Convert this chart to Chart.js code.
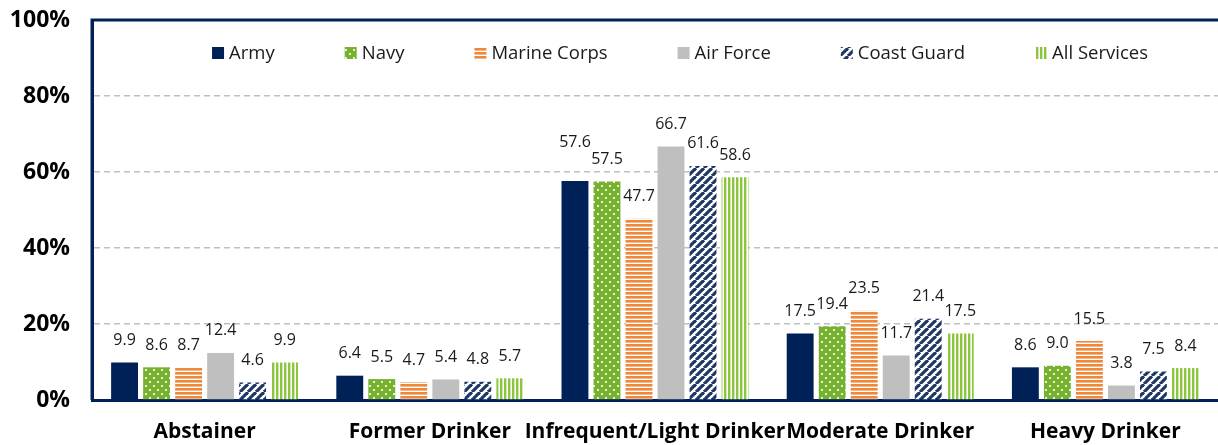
<!DOCTYPE html>
<html>
<head>
<meta charset="utf-8">
<script src="https://cdn.jsdelivr.net/npm/chart.js@4.4.0/dist/chart.umd.min.js"></script>
<style>
html,body{margin:0;padding:0;background:#fff;}
#wrap{width:1218px;height:445px;position:relative;}
</style>
</head>
<body>
<div id="wrap"><canvas id="c" width="1218" height="445"></canvas></div>
<script>
const categories = ["Abstainer", "Former Drinker", "Infrequent/Light Drinker", "Moderate Drinker", "Heavy Drinker"];
const seriesNames = ["Army", "Navy", "Marine Corps", "Air Force", "Coast Guard", "All Services"];
const army        = [9.9, 6.4, 57.6, 17.5, 8.6];
const navy        = [8.6, 5.5, 57.5, 19.4, 9.0];
const marineCorps = [8.7, 4.7, 47.7, 23.5, 15.5];
const airForce    = [12.4, 5.4, 66.7, 11.7, 3.8];
const coastGuard  = [4.6, 4.8, 61.6, 21.4, 7.5];
const allServices = [9.9, 5.7, 58.6, 17.5, 8.4];
const yTicks = [0, 20, 40, 60, 80, 100];

const NAVY = '#002157';
const FONT = '"Open Sans", "Noto Sans", sans-serif';

function tile(w, h, draw) {
  const cv = document.createElement('canvas');
  cv.width = w; cv.height = h;
  const g = cv.getContext('2d');
  draw(g, w, h);
  return document.getElementById('c').getContext('2d').createPattern(cv, 'repeat');
}
const pNavy = tile(8, 8, (g) => {
  g.fillStyle = '#77b22f'; g.fillRect(0, 0, 8, 8);
  g.fillStyle = '#ffffff';
  g.beginPath(); g.arc(2, 2, 1.1, 0, Math.PI * 2); g.fill();
  g.beginPath(); g.arc(6, 6, 1.1, 0, Math.PI * 2); g.fill();
});
const pMarine = tile(4, 4, (g) => {
  g.fillStyle = '#ffffff'; g.fillRect(0, 0, 4, 4);
  g.fillStyle = '#f0883a'; g.fillRect(0, 0, 4, 2.6);
});
const pCoast = tile(8, 8, (g) => {
  g.fillStyle = '#ffffff'; g.fillRect(0, 0, 8, 8);
  g.strokeStyle = '#1f3864'; g.lineWidth = 3.2;
  for (let k = -8; k <= 16; k += 8) {
    g.beginPath(); g.moveTo(k, 8); g.lineTo(k + 8, 0); g.stroke();
  }
});
const pAll = tile(4, 4, (g) => {
  g.fillStyle = '#ffffff'; g.fillRect(0, 0, 4, 4);
  g.fillStyle = '#8cc63f'; g.fillRect(0, 0, 2.4, 4);
});

const fills = [NAVY, pNavy, pMarine, '#bfbfbf', pCoast, pAll];
const values = [army, navy, marineCorps, airForce, coastGuard, allServices];

const datasets = seriesNames.map((n, i) => ({
  label: n,
  data: values[i],
  backgroundColor: fills[i],
  borderWidth: 0,
  categoryPercentage: 0.853,
  barPercentage: 0.84
}));

const frame = {
  id: 'frame',
  afterDraw(chart) {
    const { ctx, chartArea: a } = chart;
    ctx.save();
    ctx.strokeStyle = NAVY; ctx.lineWidth = 3;
    ctx.beginPath();
    ctx.moveTo(a.left, a.bottom);
    ctx.lineTo(a.left, a.top);
    ctx.lineTo(chart.width, a.top);
    ctx.stroke();
    ctx.restore();
  }
};

// value labels above bars; a label that would merge with its right neighbour is lifted
const valueLabels = {
  id: 'valueLabels',
  afterDatasetsDraw(chart) {
    const ctx = chart.ctx;
    ctx.save();
    ctx.font = '16px ' + FONT;
    ctx.fillStyle = '#1a1a1a';
    ctx.textAlign = 'center';
    ctx.textBaseline = 'middle';
    const nDs = chart.data.datasets.length;
    chart.data.labels.forEach((_, j) => {
      let right = null;
      for (let i = nDs - 1; i >= 0; i--) {
        const el = chart.getDatasetMeta(i).data[j];
        const txt = chart.data.datasets[i].data[j].toFixed(1);
        const w = ctx.measureText(txt).width;
        let y = el.y - 22;
        if (right && Math.abs(right.x - el.x) < (w + right.w) / 2 + 1 && Math.abs(right.y - y) < 3) {
          y = right.y - 17;
        }
        ctx.fillText(txt, el.x, y);
        right = { x: el.x, y, w };
      }
    });
    ctx.restore();
  }
};

const innerLegend = {
  id: 'innerLegend',
  afterDraw(chart) {
    const ctx = chart.ctx;
    ctx.save();
    ctx.font = '18.5px ' + FONT;
    ctx.textBaseline = 'middle';
    const box = 12, gapText = 5, gap = 70;
    const items = chart.data.datasets.map(d => ({ t: d.label, f: d.backgroundColor, w: ctx.measureText(d.label).width }));
    const total = items.reduce((s, it) => s + box + gapText + it.w, 0) + gap * (items.length - 1);
    let x = 680 - total / 2;
    const y = chart.chartArea.top + 33;
    items.forEach(it => {
      ctx.fillStyle = it.f;
      ctx.fillRect(x, y - box / 2, box, box);
      ctx.fillStyle = '#1a1a1a';
      ctx.textAlign = 'left';
      ctx.fillText(it.t, x + box + gapText, y + 1);
      x += box + gapText + it.w + gap;
    });
    ctx.restore();
  }
};

new Chart(document.getElementById('c'), {
  type: 'bar',
  data: { labels: categories, datasets },
  options: {
    responsive: false,
    animation: false,
    layout: { padding: { top: 20, right: 0, left: 0, bottom: 0 } },
    plugins: { legend: { display: false }, tooltip: { enabled: false } },
    scales: {
      x: {
        grid: { display: false, drawTicks: false },
        border: { color: NAVY, width: 3 },
        ticks: { color: '#000', font: { family: FONT, size: 21, weight: 'bold' }, padding: 19, maxRotation: 0, autoSkip: false },
        afterFit(s) { s.height = 45; }
      },
      y: {
        min: 0, max: 100,
        afterBuildTicks(s) { s.ticks = yTicks.map(v => ({ value: v })); },
        grid: {
          drawTicks: true,
          tickLength: 22,
          tickColor: 'rgba(0,0,0,0)',
          color: (c) => (c.tick && (c.tick.value === 0 || c.tick.value === 100)) ? 'rgba(0,0,0,0)' : '#bfbfbf',
          lineWidth: 1.5
        },
        border: { color: NAVY, width: 3, dash: [6, 4], display: true },
        ticks: { color: '#000', font: { family: FONT, size: 23, weight: 'bold' }, padding: 0, callback: v => v + '%' },
        afterFit(s) { s.width = 92; }
      }
    }
  },
  plugins: [valueLabels, innerLegend, frame]
});
</script>
</body>
</html>
